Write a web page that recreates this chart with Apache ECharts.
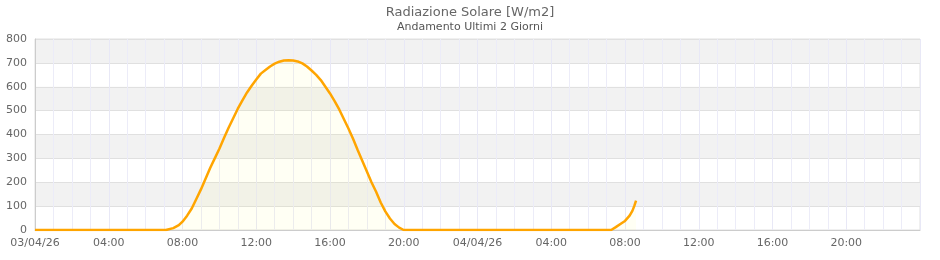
<!DOCTYPE html>
<html>
<head>
<meta charset="utf-8">
<script src="https://cdn.jsdelivr.net/npm/echarts@6/dist/echarts.min.js"></script>
<style>html,body{margin:0;padding:0;background:#fff}#c{width:940px;height:260px}</style>
</head>
<body>
<div id="c"></div>
<script>
// hours elapsed since 03/04/26 00:00
var hours = [0, 7.1, 7.5, 7.8, 8.0, 8.25, 8.5, 8.75, 9.0, 9.25, 9.5, 9.75, 10.0, 10.25, 10.5, 10.75, 11.0, 11.25, 11.5, 11.75, 12.0, 12.25, 12.5, 12.75, 13.0, 13.25, 13.5, 13.75, 14.0, 14.25, 14.5, 14.75, 15.0, 15.25, 15.5, 15.75, 16.0, 16.25, 16.5, 16.75, 17.0, 17.25, 17.5, 17.75, 18.0, 18.25, 18.5, 18.75, 19.0, 19.25, 19.5, 19.75, 20.0, 31.25, 31.5, 31.75, 32.0, 32.25, 32.4, 32.5, 32.6];
var radiation = [0, 0, 8, 20, 35, 60, 90, 130, 170, 215, 260, 300, 340, 385, 428, 468, 508, 543, 576, 604, 630, 655, 670, 685, 697, 705, 710, 711, 710, 706, 698, 685, 668, 650, 628, 600, 572, 540, 505, 465, 425, 382, 335, 290, 245, 200, 160, 115, 78, 48, 25, 10, 0, 0, 12, 25, 38, 60, 80, 100, 123];
var xTickLabels = ['03/04/26', '04:00', '08:00', '12:00', '16:00', '20:00', '04/04/26', '04:00', '08:00', '12:00', '16:00', '20:00', ''];
var titleText = 'Radiazione Solare [W/m2]';
var subtitleText = 'Andamento Ultimi 2 Giorni';

var pts = hours.map(function (h, i) { return [h, radiation[i]]; });
var chart = echarts.init(document.getElementById('c'), null, {renderer: 'canvas'});
chart.setOption({
  animation: false,
  backgroundColor: '#fff',
  textStyle: {fontFamily: 'DejaVu Sans'},
  title: {
    text: titleText, subtext: subtitleText, left: 'center', top: 1, itemGap: 3,
    textStyle: {fontSize: 13, fontWeight: 'normal', color: '#666', fontFamily: 'DejaVu Sans'},
    subtextStyle: {fontSize: 11, color: '#555', fontFamily: 'DejaVu Sans'}
  },
  grid: {left: 35, right: 20, top: 39, bottom: 30, show: true, borderColor: '#e0e0e0', borderWidth: 1, backgroundColor: 'transparent'},
  xAxis: {
    type: 'value', min: 0, max: 48, interval: 4,
    axisLine: {show: true, lineStyle: {color: '#ccc'}},
    axisTick: {show: false},
    axisLabel: {color: '#666', fontSize: 11, margin: 8, showMaxLabel: true,
      formatter: function (v) { return xTickLabels[Math.round(v / 4)]; }},
    splitLine: {show: true, lineStyle: {color: '#e8e8f6', width: 1}},
    minorTick: {show: false, splitNumber: 4},
    minorSplitLine: {show: true, lineStyle: {color: '#ececf8', width: 1}}
  },
  yAxis: {
    type: 'value', min: 0, max: 800, interval: 100,
    axisLine: {show: true, lineStyle: {color: '#ccc'}},
    axisTick: {show: false},
    axisLabel: {color: '#666', fontSize: 11, margin: 8},
    splitLine: {show: true, lineStyle: {color: '#e0e0e0', width: 1}},
    splitArea: {show: true, areaStyle: {color: ['rgba(255,255,255,0)', '#f2f2f2']}}
  },
  series: [{
    type: 'line', data: pts, showSymbol: false, symbol: 'none', smooth: false,
    lineStyle: {color: '#ffa500', width: 2.5},
    areaStyle: {color: 'rgba(255,255,0,0.06)'},
    z: 3
  }]
});
</script>
</body>
</html>
